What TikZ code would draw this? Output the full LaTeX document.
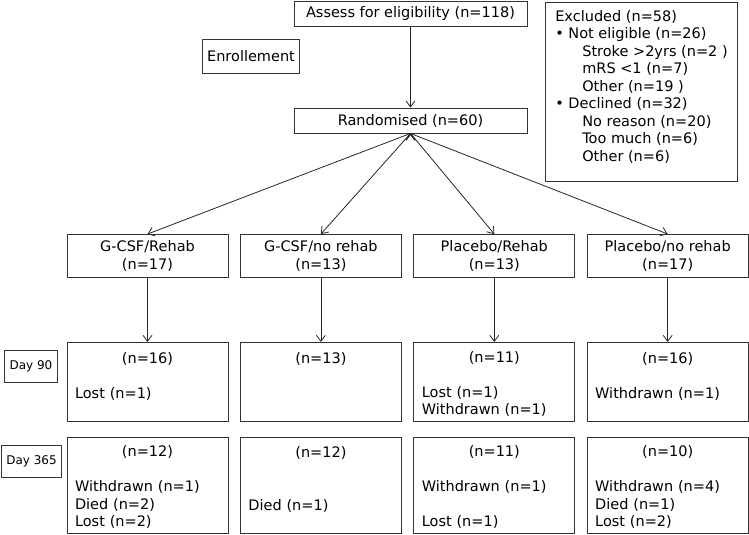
\documentclass[tikz,border=0pt]{standalone}
\usepackage{fontspec}
\setmainfont{DejaVu Sans}
\usetikzlibrary{positioning,arrows.meta}

\newcommand{\nline}[1]{\makebox[\linewidth]{\rule{0pt}{15pt}#1}}

\begin{document}
\begin{tikzpicture}[x=1pt, y=-1pt,
        every node/.style={font=\fontsize{14.5}{17.5}\selectfont},
        header/.style={rectangle, draw=black!80, line width=0.9pt, minimum width=233pt, minimum height=25pt, inner sep=0pt},
        tag/.style={rectangle, draw=black!80, line width=0.9pt, inner xsep=5pt, minimum height=34pt},
        excl/.style={rectangle, draw=black!80, line width=0.9pt, align=left, inner xsep=10pt, minimum height=179pt},
        arm/.style={rectangle, draw=black!80, line width=0.9pt, minimum width=161pt, minimum height=43pt, align=center, inner sep=0pt},
        visit/.style={rectangle, draw=black!80, line width=0.9pt, minimum width=161pt, text width=145pt, align=left, inner xsep=8pt, inner ysep=0pt},
        day/.style={rectangle, draw=black!80, line width=0.9pt, font=\fontsize{12}{14}\selectfont, inner xsep=5pt, minimum height=32pt},
        flow/.style={-{Straight Barb[length=6pt,width=9pt]}, draw=black!85, line width=0.8pt},
    ]
    \useasboundingbox (0,0) rectangle (749,535);

    \node[header] (Assess) at (410.5,14) {Assess for eligibility (n=118)};
    \node[header] (Rand) at (410.5,120.5) {Randomised (n=60)};
    \node[tag] (Enrol) at (251,56) {Enrollement};
    \node[excl] (Excl) at (641.5,91.5) {Excluded (n=58)\\
        • Not eligible (n=26)\\
        \hspace*{27pt}Stroke >2yrs (n=2 )\\
        \hspace*{27pt}mRS <1 (n=7)\\
        \hspace*{27pt}Other (n=19 )\\
        • Declined (n=32)\\
        \hspace*{27pt}No reason (n=20)\\
        \hspace*{27pt}Too much (n=6)\\
        \hspace*{27pt}Other (n=6)\\[-5.5pt]\mbox{}};

    \node[arm] (GR) at (147.5,256) {G-CSF/Rehab\\(n=17)};
    \node[arm] (GN) [right=11.5pt of GR] {G-CSF/no rehab\\(n=13)};
    \node[arm] (PR) [right=11.5pt of GN] {Placebo/Rehab\\(n=13)};
    \node[arm] (PN) [right=11.5pt of PR] {Placebo/no rehab\\(n=17)};

    \node[visit, minimum height=79pt] (GR90) [below=64pt of GR] {\nline{(n=16)}\\ \mbox{}\\ Lost (n=1)\\ \mbox{}};
    \node[visit, minimum height=79pt] (GN90) [below=64pt of GN] {\nline{(n=13)}\\ \mbox{}\\ \mbox{}\\ \mbox{}};
    \node[visit, minimum height=79pt] (PR90) [below=64pt of PR] {\nline{(n=11)}\\ \mbox{}\\ Lost (n=1)\\ Withdrawn (n=1)};
    \node[visit, minimum height=79pt] (PN90) [below=64pt of PN] {\nline{(n=16)}\\ \mbox{}\\ Withdrawn (n=1)\\ \mbox{}};

    \node[visit, minimum height=96pt] (GR365) [below=15pt of GR90] {\nline{(n=12)}\\ \mbox{}\\ Withdrawn (n=1)\\ Died (n=2)\\ Lost (n=2)};
    \node[visit, minimum height=96pt] (GN365) [below=15pt of GN90] {\nline{(n=12)}\\ \mbox{}\\ \mbox{}\\ Died (n=1)\\ \mbox{}};
    \node[visit, minimum height=96pt] (PR365) [below=15pt of PR90] {\nline{(n=11)}\\ \mbox{}\\ Withdrawn (n=1)\\ \mbox{}\\ Lost (n=1)};
    \node[visit, minimum height=96pt] (PN365) [below=15pt of PN90] {\nline{(n=10)}\\ \mbox{}\\ Withdrawn (n=4)\\ Died (n=1)\\ Lost (n=2)};

    \node[day] (D90) at (31,366) {Day 90};
    \node[day] (D365) at (31.5,461.5) {Day 365};

    \path[flow] (Assess) edge (Rand);
    \path[flow] (Rand.south) edge (GR.north);
    \path[flow] (Rand.south) edge (GN.north);
    \path[flow] (Rand.south) edge (PR.north);
    \path[flow] (Rand.south) edge (PN.north);
    \path[flow] (GR) edge (GR90);
    \path[flow] (GN) edge (GN90);
    \path[flow] (PR) edge (PR90);
    \path[flow] (PN) edge (PN90);
\end{tikzpicture}
\end{document}
